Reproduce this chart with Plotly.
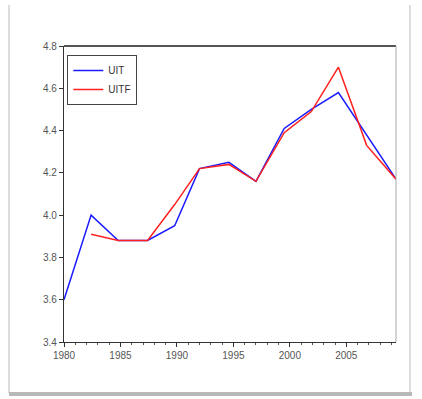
import plotly.graph_objects as go

# Observation dates (decimal years) and the two series
periods = [1980.0, 1982.4, 1984.8, 1987.4, 1989.8, 1992.0, 1994.6,
           1997.0, 1999.5, 2001.9, 2004.3, 2006.8, 2009.4]
uit = [3.60, 4.00, 3.88, 3.88, 3.95, 4.22, 4.25,
       4.16, 4.41, 4.50, 4.58, 4.38, 4.17]
uitf = [None, 3.91, 3.88, 3.88, 4.05, 4.22, 4.24,
        4.16, 4.39, 4.49, 4.70, 4.33, 4.17]

x_ticks = [1980, 1985, 1990, 1995, 2000, 2005]
x_tick_labels = ["1980", "1985", "1990", "1995", "2000", "2005"]
y_ticks = [3.4, 3.6, 3.8, 4.0, 4.2, 4.4, 4.6, 4.8]
y_tick_labels = ["3.4", "3.6", "3.8", "4.0", "4.2", "4.4", "4.6", "4.8"]

fig = go.Figure()
fig.add_trace(go.Scatter(x=periods, y=uit, mode="lines", name="UIT",
                         line=dict(color="#1a1aff", width=1.5)))
fig.add_trace(go.Scatter(x=periods, y=uitf, mode="lines", name="UITF",
                         line=dict(color="#ff2020", width=1.5)))

font = dict(family="Liberation Sans, Arial, sans-serif", size=10, color="#555555")

fig.update_layout(
    width=422, height=399,
    margin=dict(l=64, r=26, t=46, b=57),
    paper_bgcolor="white", plot_bgcolor="white",
    showlegend=True,
    legend=dict(x=0.01, y=0.97, xanchor="left", yanchor="top",
                bgcolor="white", bordercolor="#444444", borderwidth=1,
                font=dict(family="Liberation Sans, Arial, sans-serif", size=10, color="#333333"),
                tracegroupgap=0, itemwidth=30),
    xaxis=dict(range=[1980, 2009.4], tickmode="array", tickvals=x_ticks,
               ticktext=x_tick_labels, ticks="outside", ticklen=4,
               tickcolor="#333333", showgrid=False, zeroline=False,
               showline=True, linecolor="#333333", linewidth=1.2,
               tickfont=font,
               minor=dict(dtick=1, ticks="outside", ticklen=2, tickcolor="#555555")),
    yaxis=dict(range=[3.4, 4.8], tickmode="array", tickvals=y_ticks,
               ticktext=y_tick_labels, ticks="outside", ticklen=4,
               tickcolor="#333333", showgrid=False, zeroline=False,
               showline=True, linecolor="#333333", linewidth=1.2,
               tickfont=font),
)

# Top and right frame of the plot area
fig.add_shape(type="line", xref="paper", yref="paper", x0=0, x1=1, y0=1, y1=1,
              line=dict(color="#555555", width=2))
fig.add_shape(type="line", xref="paper", yref="paper", x0=1, x1=1, y0=0, y1=1,
              line=dict(color="#aaaaaa", width=1))

# Outer panel border
fig.add_shape(type="line", xref="paper", yref="paper",
              x0=(9 - 64) / 332, x1=(9 - 64) / 332, y0=(342 - 393) / 296, y1=(342 - 5) / 296,
              line=dict(color="#dddddd", width=2))
fig.add_shape(type="line", xref="paper", yref="paper",
              x0=(410 - 64) / 332, x1=(410 - 64) / 332, y0=(342 - 393) / 296, y1=(342 - 5) / 296,
              line=dict(color="#dddddd", width=2))
fig.add_shape(type="line", xref="paper", yref="paper",
              x0=(9 - 64) / 332, x1=(412 - 64) / 332, y0=(342 - 394) / 296, y1=(342 - 394) / 296,
              line=dict(color="#b8b8b8", width=4))

fig.write_html("out.html")
